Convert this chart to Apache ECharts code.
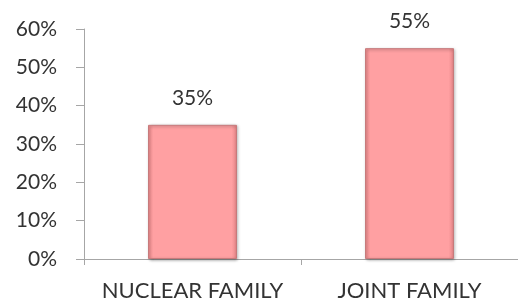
<!DOCTYPE html>
<html lang="en">
<head>
<meta charset="UTF-8" />
<title>Family type</title>
<style>
  * { box-sizing: border-box; margin: 0; padding: 0; }
  html, body { background: #fff; }
  .container { width: 518px; height: 305px; }
</style>
</head>
<body>
<div class="container" id="chart"></div>
<script src="https://cdn.jsdelivr.net/npm/echarts@6/dist/echarts.min.js"></script>
<script>
// data
var categories = ['NUCLEAR FAMILY', 'JOINT FAMILY'];
var values = [35, 55];
var yTicks = [0, 10, 20, 30, 40, 50, 60];

var font = 'Lato, "Open Sans", sans-serif';
var chart = echarts.init(document.getElementById('chart'));

chart.setOption({
  animation: false,
  grid: { left: 84, right: -8, top: 29, bottom: 46 },
  xAxis: {
    type: 'category',
    data: categories,
    axisLine: { lineStyle: { color: '#a6a6a6', width: 1 } },
    axisTick: { show: true, length: 6, lineStyle: { color: '#a6a6a6' } },
    axisLabel: {
      color: '#333', fontSize: 22, fontFamily: font, margin: 21,
      interval: 0, hideOverlap: false
    }
  },
  yAxis: {
    type: 'value',
    min: yTicks[0],
    max: yTicks[yTicks.length - 1],
    interval: 10,
    splitLine: { show: false },
    axisLine: { show: true, lineStyle: { color: '#a6a6a6', width: 1 } },
    axisTick: { show: true, length: 8, lineStyle: { color: '#a6a6a6' } },
    axisLabel: {
      color: '#333', fontSize: 21, fontFamily: font, margin: 27,
      formatter: '{value}%'
    }
  },
  series: [{
    type: 'bar',
    data: values,
    barWidth: '41%',
    itemStyle: {
      color: new echarts.graphic.LinearGradient(0, 0, 1, 0, [
        { offset: 0, color: '#f28e90' },
        { offset: 0.06, color: '#ffa0a2' },
        { offset: 0.94, color: '#ffa0a2' },
        { offset: 1, color: '#e48486' }
      ]),
      borderColor: '#c77b7c',
      borderWidth: 1,
      shadowColor: 'rgba(0,0,0,0.35)',
      shadowBlur: 3,
      shadowOffsetX: 1,
      shadowOffsetY: 1
    },
    label: {
      show: true,
      position: 'top',
      distance: 16,
      formatter: '{c}%',
      color: '#333',
      fontSize: 21,
      fontFamily: font
    }
  }]
});
</script>
</body>
</html>
